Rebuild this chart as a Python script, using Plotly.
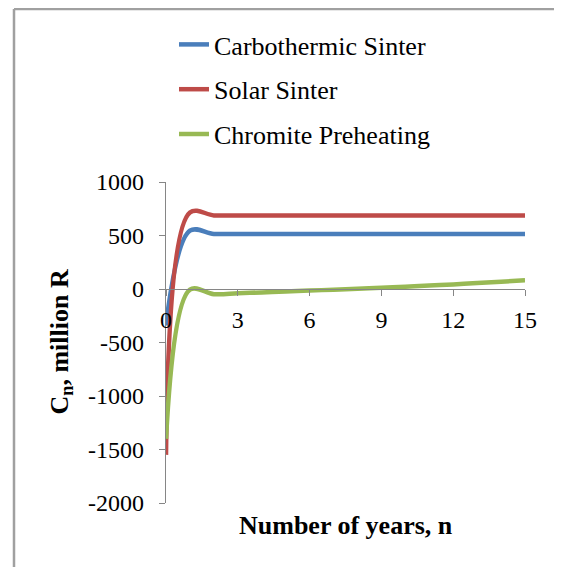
import plotly.graph_objects as go

years = list(range(0, 16))

carbothermic = [-340, 545, 515, 515, 515, 515, 515, 515, 515, 515, 515, 515, 515, 515, 515, 515]
solar = [-1550, 715, 688, 688, 688, 688, 688, 688, 688, 688, 688, 688, 688, 688, 688, 688]
chromite = [-1400, -5, -48, -40, -32, -24, -15, -6, 3, 12, 22, 32, 43, 55, 68, 82]

series_names = ["Carbothermic Sinter", "Solar Sinter", "Chromite Preheating"]
series_colors = ["#4a7ebb", "#be4b48", "#98b954"]

x_ticks = [0, 3, 6, 9, 12, 15]
y_ticks = [1000, 500, 0, -500, -1000, -1500, -2000]
y_tick_text = ["1000", "500", "0", "-500", "-1000", "-1500", "-2000"]

font_family = "Liberation Serif, Times New Roman, serif"
axis_color = "#868686"

# page body has an 8px margin, so the figure is 8px smaller and shifted
W, H = 554, 559
ML, MR, MT, MB = 158, 37, 174, 64
plot_w = W - ML - MR
plot_h = H - MT - MB

fig = go.Figure()
for name, vals, color in zip(series_names, [carbothermic, solar, chromite], series_colors):
    fig.add_trace(go.Scatter(
        x=years, y=vals, name=name, mode="lines",
        line=dict(color=color, width=4.5, shape="spline", smoothing=1),
        legendgroup=name,
    ))

fig.update_layout(
    width=W, height=H,
    margin=dict(l=ML, r=MR, t=MT, b=MB, autoexpand=False),
    paper_bgcolor="white", plot_bgcolor="white",
    font=dict(family=font_family, size=24, color="black"),
    showlegend=True,
    legend=dict(
        xref="container", yref="container",
        x=166 / W, y=1 - 13 / H, xanchor="left", yanchor="top",
        font=dict(size=26, family=font_family),
        tracegroupgap=8, bgcolor="rgba(0,0,0,0)",
    ),
    # x axis sits on y=0 (2/3 of the way up the -2000..1000 range)
    xaxis=dict(
        range=[0, 15], anchor="free", position=2 / 3, automargin=False,
        tickvals=x_ticks, ticks="outside", ticklen=6,
        tickcolor=axis_color, showline=True, linecolor=axis_color, linewidth=1.3,
        showgrid=False, zeroline=False, ticklabelstandoff=3,
        tickfont=dict(size=24),
    ),
    yaxis=dict(
        range=[-2000, 1000], tickvals=y_ticks, ticktext=y_tick_text, automargin=False,
        ticks="outside", ticklen=6,
        tickcolor=axis_color, showline=True, linecolor=axis_color, linewidth=1.3,
        showgrid=False, zeroline=False, ticklabelstandoff=10,
    ),
    annotations=[
        dict(text="<b>Number of years, n</b>", xref="paper", yref="paper",
             x=0.5, y=(MT + plot_h - 517) / plot_h, xanchor="center", yanchor="middle",
             showarrow=False, font=dict(size=26)),
        dict(text="<b>C<sub>n</sub>, million R</b>", xref="paper", yref="paper",
             x=(52 - ML) / plot_w, y=0.5, xanchor="center", yanchor="middle",
             textangle=-90, showarrow=False, font=dict(size=26)),
    ],
    shapes=[
        # frame around the picture (left and top edges visible)
        dict(type="line", xref="paper", yref="paper", x0=(6 - ML) / plot_w, x1=1.2,
             y0=(MT + plot_h - 1) / plot_h, y1=(MT + plot_h - 1) / plot_h,
             line=dict(color="#a0a0a0", width=2.5)),
        dict(type="line", xref="paper", yref="paper", x0=(6 - ML) / plot_w, x1=(6 - ML) / plot_w,
             y0=(MT + plot_h - 1) / plot_h, y1=-0.3, line=dict(color="#a0a0a0", width=2.5)),
    ],
)

fig.write_html("out.html")
